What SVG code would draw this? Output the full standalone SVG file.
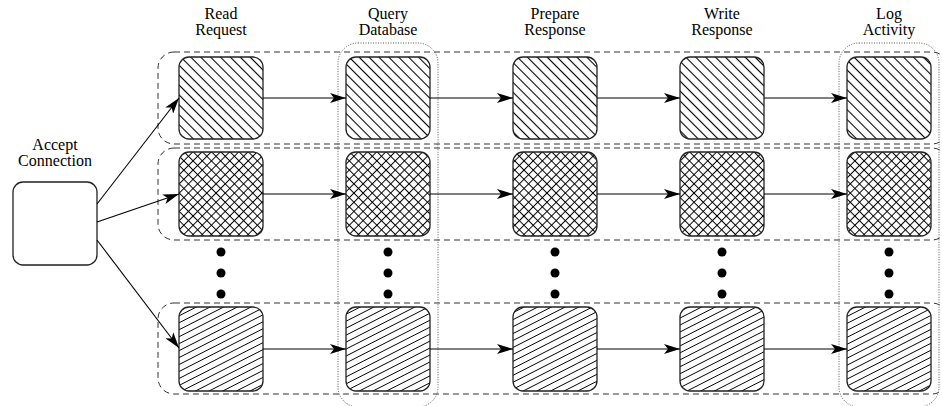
<svg xmlns="http://www.w3.org/2000/svg" width="942" height="406" viewBox="0 0 942 406">
<style>
  .lbl{font-family:"Liberation Serif","Times New Roman",serif;font-size:16px;fill:#000;text-anchor:middle}
  .node{stroke:#222;stroke-width:1.3}
  .r1{fill:url(#hatch1)}
  .r2{fill:url(#hatch2)}
  .r3{fill:url(#hatch3)}
  .row{fill:none;stroke:#333;stroke-width:1;stroke-dasharray:6 4}
  .col{fill:none;stroke:#555;stroke-width:1;stroke-dasharray:1 1.5}
  .edge{stroke:#000;stroke-width:1.1;fill:none;marker-end:url(#arr)}
  .dot{fill:#000}
</style>
<defs>
  <marker id="arr" markerUnits="userSpaceOnUse" markerWidth="16" markerHeight="10" refX="16" refY="5" orient="auto">
    <path d="M0,0 L16,5 L0,10 L4,5 Z" fill="#000"/>
  </marker>
  <pattern id="hatch1" patternUnits="userSpaceOnUse" width="7" height="7" patternTransform="rotate(-45)">
    <rect width="7" height="7" fill="#fff"/>
    <line x1="3.5" y1="0" x2="3.5" y2="7" stroke="#000" stroke-width="1.1"/>
  </pattern>
  <pattern id="hatch2" patternUnits="userSpaceOnUse" width="6.5" height="6.5" patternTransform="rotate(45)">
    <rect width="6.5" height="6.5" fill="#fff"/>
    <line x1="3.25" y1="0" x2="3.25" y2="6.5" stroke="#000" stroke-width="1"/>
    <line x1="0" y1="3.25" x2="6.5" y2="3.25" stroke="#000" stroke-width="1"/>
  </pattern>
  <pattern id="hatch3" patternUnits="userSpaceOnUse" width="6" height="6.2" patternTransform="rotate(-27)">
    <rect width="6" height="6.2" fill="#fff"/>
    <line x1="0" y1="3.1" x2="6" y2="3.1" stroke="#000" stroke-width="0.9"/>
  </pattern>
</defs>
<rect width="942" height="406" fill="#fff"/>

<g id="containers">
  <rect id="row1" class="row" x="158" y="52" width="790" height="92" rx="16"/>
  <rect id="row2" class="row" x="158" y="148" width="790" height="92" rx="16"/>
  <rect id="row3" class="row" x="158" y="303" width="790" height="91" rx="16"/>
  <rect id="colQuery" class="col" x="338" y="43" width="100" height="364" rx="20"/>
  <rect id="colLog" class="col" x="839" y="43" width="100" height="364" rx="20"/>
</g>

<g id="labels">
  <text class="lbl" x="55" y="150">Accept</text>
  <text class="lbl" x="55" y="166">Connection</text>
  <text class="lbl" x="221" y="19">Read</text>
  <text class="lbl" x="221" y="35">Request</text>
  <text class="lbl" x="388" y="19">Query</text>
  <text class="lbl" x="388" y="35">Database</text>
  <text class="lbl" x="555" y="19">Prepare</text>
  <text class="lbl" x="555" y="35">Response</text>
  <text class="lbl" x="722" y="19">Write</text>
  <text class="lbl" x="722" y="35">Response</text>
  <text class="lbl" x="889" y="19">Log</text>
  <text class="lbl" x="889" y="35">Activity</text>
</g>

<g id="accept"><rect class="node" x="13" y="182" width="84" height="83" rx="10" fill="#fff"/></g>

<g id="n11"><rect class="node r1" x="179" y="57" width="84" height="82" rx="10"/></g>
<g id="n12"><rect class="node r1" x="346" y="57" width="84" height="82" rx="10"/></g>
<g id="n13"><rect class="node r1" x="513" y="57" width="84" height="82" rx="10"/></g>
<g id="n14"><rect class="node r1" x="680" y="57" width="84" height="82" rx="10"/></g>
<g id="n15"><rect class="node r1" x="847" y="57" width="84" height="82" rx="10"/></g>

<g id="n21"><rect class="node r2" x="179" y="152" width="84" height="84" rx="10"/></g>
<g id="n22"><rect class="node r2" x="346" y="152" width="84" height="84" rx="10"/></g>
<g id="n23"><rect class="node r2" x="513" y="152" width="84" height="84" rx="10"/></g>
<g id="n24"><rect class="node r2" x="680" y="152" width="84" height="84" rx="10"/></g>
<g id="n25"><rect class="node r2" x="847" y="152" width="84" height="84" rx="10"/></g>

<g id="n31"><rect class="node r3" x="179" y="307" width="84" height="84" rx="10"/></g>
<g id="n32"><rect class="node r3" x="346" y="307" width="84" height="84" rx="10"/></g>
<g id="n33"><rect class="node r3" x="513" y="307" width="84" height="84" rx="10"/></g>
<g id="n34"><rect class="node r3" x="680" y="307" width="84" height="84" rx="10"/></g>
<g id="n35"><rect class="node r3" x="847" y="307" width="84" height="84" rx="10"/></g>

<g id="ellipsis">
  <circle class="dot" cx="221" cy="252" r="4.5"/><circle class="dot" cx="221" cy="273" r="4.5"/><circle class="dot" cx="221" cy="294" r="4.5"/>
  <circle class="dot" cx="388" cy="252" r="4.5"/><circle class="dot" cx="388" cy="273" r="4.5"/><circle class="dot" cx="388" cy="294" r="4.5"/>
  <circle class="dot" cx="555" cy="252" r="4.5"/><circle class="dot" cx="555" cy="273" r="4.5"/><circle class="dot" cx="555" cy="294" r="4.5"/>
  <circle class="dot" cx="722" cy="252" r="4.5"/><circle class="dot" cx="722" cy="273" r="4.5"/><circle class="dot" cx="722" cy="294" r="4.5"/>
  <circle class="dot" cx="889" cy="252" r="4.5"/><circle class="dot" cx="889" cy="273" r="4.5"/><circle class="dot" cx="889" cy="294" r="4.5"/>
</g>

<g id="connectors">
  <line class="edge" x1="97" y1="204" x2="179" y2="98"/>
  <line class="edge" x1="97" y1="222" x2="179" y2="194"/>
  <line class="edge" x1="97" y1="240" x2="179" y2="348"/>

  <line class="edge" x1="263" y1="98" x2="346" y2="98"/>
  <line class="edge" x1="430" y1="98" x2="513" y2="98"/>
  <line class="edge" x1="597" y1="98" x2="680" y2="98"/>
  <line class="edge" x1="764" y1="98" x2="847" y2="98"/>

  <line class="edge" x1="263" y1="194" x2="346" y2="194"/>
  <line class="edge" x1="430" y1="194" x2="513" y2="194"/>
  <line class="edge" x1="597" y1="194" x2="680" y2="194"/>
  <line class="edge" x1="764" y1="194" x2="847" y2="194"/>

  <line class="edge" x1="263" y1="349" x2="346" y2="349"/>
  <line class="edge" x1="430" y1="349" x2="513" y2="349"/>
  <line class="edge" x1="597" y1="349" x2="680" y2="349"/>
  <line class="edge" x1="764" y1="349" x2="847" y2="349"/>
</g>
</svg>
